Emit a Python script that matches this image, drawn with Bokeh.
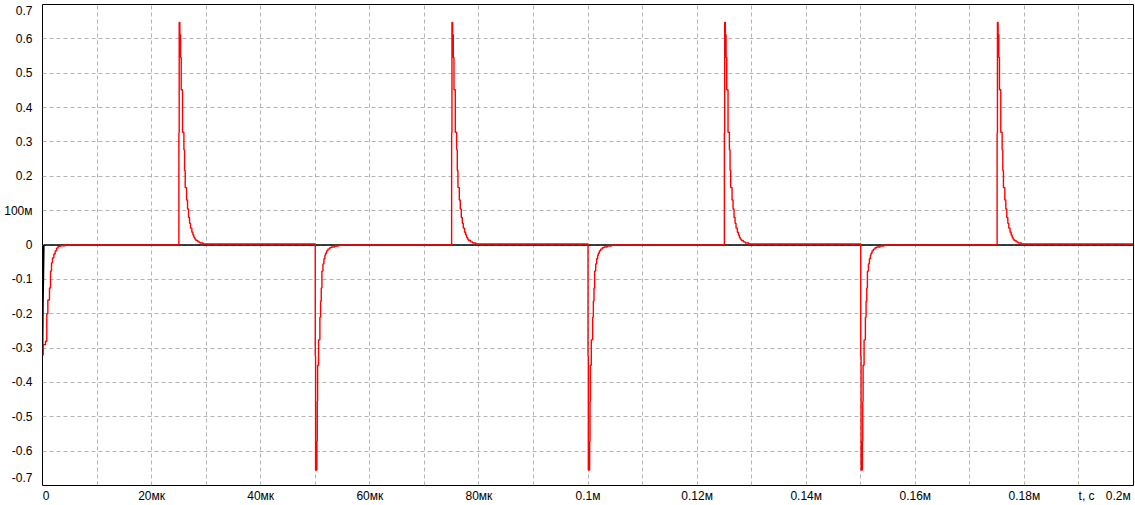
from bokeh.plotting import figure
from bokeh.models import Range1d, FixedTicker
from bokeh.embed import file_html
from bokeh.resources import INLINE

# ---------------- data (time in microseconds, voltage in volts) ----------------
T_END = 200.0
pulse_times = [0, 25, 50, 75, 100, 125, 150, 175]
pulse_kinds = ["first", "pos", "neg", "pos", "neg", "pos", "neg", "pos"]

# first (t = 0) negative response
first_dt = [0.0, 0.12, 0.55, 0.79, 0.98, 1.28, 1.47, 1.65, 1.83, 2.08, 2.32, 2.57, 2.87, 3.30, 4.10]
first_v = [-0.320, -0.290, -0.280, -0.200, -0.160, -0.125, -0.076, -0.052, -0.038, -0.026,
           -0.017, -0.009, -0.004, -0.002, 0.0]

# positive spike samples
pos_dt = [0.0, 0.06, 0.18, 0.31, 0.43, 0.67, 0.92, 1.04, 1.16, 1.41, 1.59, 1.77, 1.96,
          2.14, 2.38, 2.57, 2.75, 2.93, 3.12, 3.48, 3.85, 4.46]
pos_v = [0.327, 0.648, 0.612, 0.546, 0.452, 0.328, 0.277, 0.217, 0.167, 0.131, 0.105,
         0.080, 0.063, 0.049, 0.037, 0.029, 0.022, 0.017, 0.013, 0.009, 0.006, 0.003]

# negative spike samples
neg_dt = [0.0, 0.06, 0.30, 0.37, 0.43, 0.61, 0.85, 0.98, 1.10, 1.22, 1.41, 1.59, 1.77,
          1.89, 2.08, 2.32, 2.63, 2.93, 3.54, 4.30]
neg_v = [-0.324, -0.655, -0.571, -0.455, -0.350, -0.276, -0.210, -0.163, -0.125, -0.076,
         -0.055, -0.040, -0.030, -0.024, -0.017, -0.012, -0.008, -0.006, -0.003, 0.0]

level_after = {"first": 0.0, "pos": 0.003, "neg": 0.0}

# second (black) trace
black_t = [0.0, 0.10, 0.25, 200.0]
black_v = [-0.320, -0.160, 0.0, 0.0]

# tick labels (positions are where each label's centre sits)
x_tick_pos = [0.65, 20, 40, 60, 80, 100, 120, 140, 160, 180, 191.4, 197.2]
x_tick_text = ["0", "20мк", "40мк", "60мк", "80мк", "0.1м", "0.12м", "0.14м", "0.16м",
               "0.18м", "t, c", "0.2м"]
y_tick_pos = [0.68, 0.6, 0.5, 0.4, 0.3, 0.2, 0.1, 0.0, -0.1, -0.2, -0.3, -0.4, -0.5, -0.6, -0.677]
y_tick_text = ["0.7", "0.6", "0.5", "0.4", "0.3", "0.2", "100м", "0", "-0.1", "-0.2", "-0.3",
               "-0.4", "-0.5", "-0.6", "-0.7"]
x_grid = [i * 10 for i in range(21)]
y_grid = [round(-0.7 + 0.1 * i, 2) for i in range(15)]

shapes = {"first": (first_dt, first_v), "pos": (pos_dt, pos_v), "neg": (neg_dt, neg_v)}

# assemble the red stepped trace from the read samples
red_t, red_v = [], []
for t0, kind in zip(pulse_times, pulse_kinds):
    dts, vs = shapes[kind]
    for dt, v in zip(dts, vs):
        red_t.append(t0 + dt)
        red_v.append(v)
    red_t.append(t0 + dts[-1] + 0.3)
    red_v.append(level_after[kind])
red_t.append(T_END)
red_v.append(red_v[-1])

FONT = "Liberation Sans"
FS = "12px"

p = figure(width=1135, height=505,
           x_range=Range1d(0, T_END), y_range=Range1d(-0.7, 0.7),
           toolbar_location=None, output_backend="svg",
           min_border_left=42, min_border_right=2, min_border_top=4, min_border_bottom=18)
p.background_fill_color = "white"
p.border_fill_color = "white"
p.outline_line_color = "black"
p.outline_line_width = 1
p.outline_line_alpha = 1.0

for g, ticks in ((p.xgrid, x_grid), (p.ygrid, y_grid)):
    g.ticker = FixedTicker(ticks=ticks)
    g.grid_line_color = "#b4b4b4"
    g.grid_line_dash = "4 3"
    g.grid_line_width = 1

for ax, pos, txt, standoff in ((p.xaxis[0], x_tick_pos, x_tick_text, 3),
                               (p.yaxis[0], y_tick_pos, y_tick_text, 10)):
    ax.ticker = FixedTicker(ticks=pos)
    ax.major_label_overrides = {float(k): t for k, t in zip(pos, txt)}
    ax.axis_line_color = None
    ax.major_tick_line_color = None
    ax.minor_tick_line_color = None
    ax.major_tick_in = 0
    ax.major_tick_out = 0
    ax.major_label_standoff = standoff
    ax.major_label_text_font = FONT
    ax.major_label_text_font_size = FS
    ax.major_label_text_color = "black"

p.line(black_t, black_v, line_color="black", line_width=1.6)
p.step(red_t, red_v, mode="after", line_color="#ff0000", line_width=1.4)

with open("out.html", "w", encoding="utf-8") as f:
    f.write(file_html(p, INLINE))
